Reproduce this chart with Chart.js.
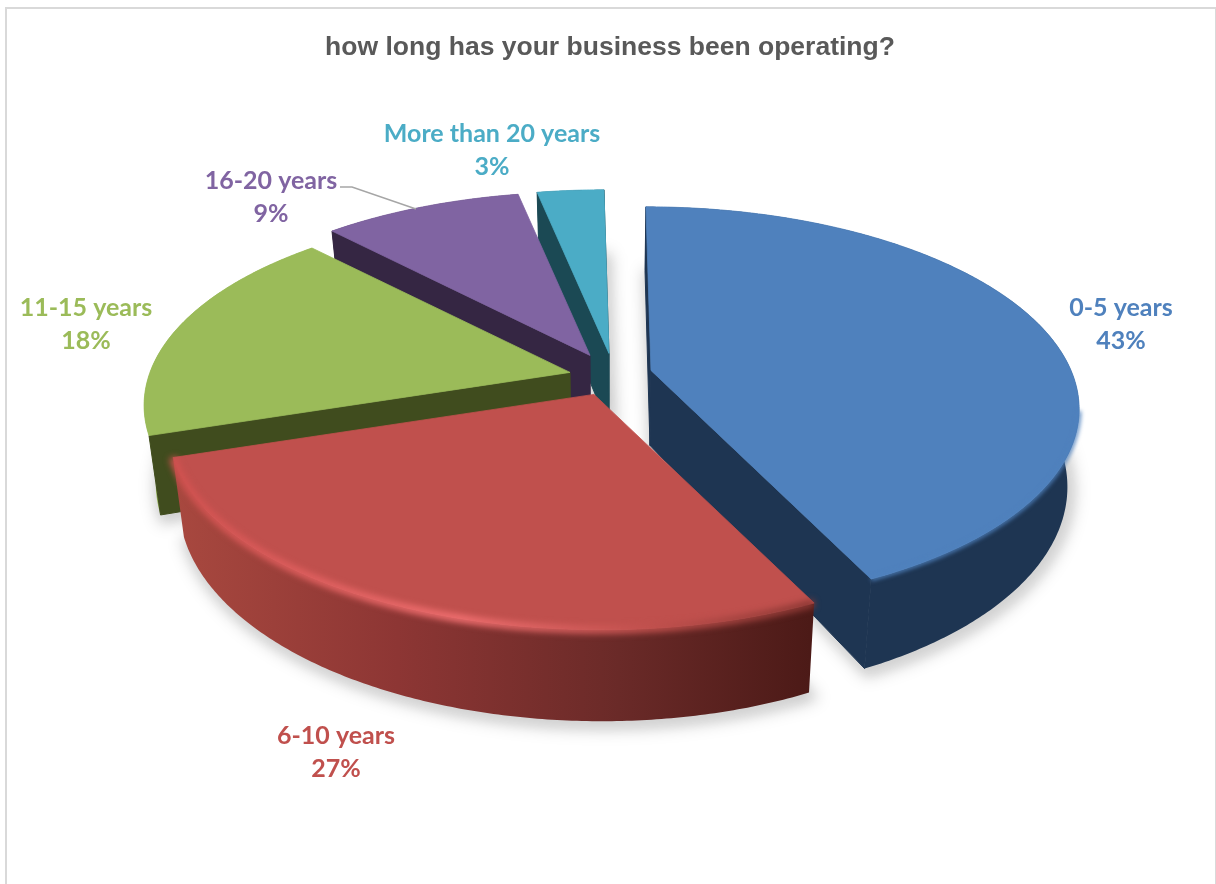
<!DOCTYPE html>
<html>
<head>
<meta charset="utf-8">
<title>how long has your business been operating?</title>
<script src="https://cdn.jsdelivr.net/npm/chart.js@4"></script>
<style>
  html, body { margin: 0; background: #fff; }
  #grafico { position: relative; width: 1216px; height: 884px; overflow: hidden; }
  #moldura { position: absolute; left: 5px; top: 7px; width: 1208px; height: 890px; border: 2px solid #d9d9d9; }
  canvas { position: absolute; left: 0; top: 0; }
</style>
</head>
<body>
<div id="grafico">
  <div id="moldura"></div>
  <canvas id="myChart" width="1216" height="884"></canvas>
</div>
<script>
const titulo = 'how long has your business been operating?';
const categorias = ['0-5 years', '6-10 years', '11-15 years', '16-20 years', 'More than 20 years'];
const valores = [43, 27, 18, 9, 3];

const cores = ['#4f81bd', '#c0504d', '#9bbb59', '#8064a2', '#4bacc6'];
const coresLateral = ['#1e3552', '#7a2f2c', '#404c1e', '#352643', '#1b4954'];

// Deslocamento de cada fatia (pizza explodida), em px a partir do centro
const explosao = [[41, -7], [-16, 17], [-40, -5], [-20, -22], [-1, -24]];
// Fatias de trás são pintadas primeiro
const ordemDesenho = [4, 3, 0, 2, 1];
// Posição do centro dos rótulos (segunda linha fica 32px abaixo)
const posRotulos = [[1121, 307], [336, 735], [86, 307], [271, 180], [492, 133]];

const largura = 420;    // semi-eixo horizontal do disco
const altura = 193;     // semi-eixo vertical do disco
const perspectiva = 0.18;
const inclinacao = 6;   // leve cisalhamento da vista 3D
const espessura = 75;
const convergencia = 0.975;

// Converte ponto do disco (u, v) em tela
function projetar(arc, i, u, v) {
  const f = 1 / (1 - perspectiva * v);
  return {
    x: arc.x + explosao[i][0] + (largura * u + inclinacao * v) * f,
    y: arc.y + explosao[i][1] + altura * v * f,
    v: v
  };
}

function base(arc, p) {
  return {
    x: arc.x + (p.x - arc.x) * convergencia,
    y: p.y + espessura / (1 - perspectiva * p.v)
  };
}

// Pontos da borda externa da fatia, usando os ângulos calculados pelo Chart.js
function bordaFatia(arc, i) {
  const pontos = [];
  const passos = Math.ceil((arc.endAngle - arc.startAngle) / 0.01);
  for (let k = 0; k <= passos; k++) {
    const a = arc.startAngle + (arc.endAngle - arc.startAngle) * k / passos;
    pontos.push(projetar(arc, i, Math.cos(a), Math.sin(a)));
  }
  return pontos;
}

function caminho(ctx, pontos, fechar) {
  ctx.beginPath();
  pontos.forEach((p, k) => k ? ctx.lineTo(p.x, p.y) : ctx.moveTo(p.x, p.y));
  if (fechar) ctx.closePath();
}

function gradienteLateral(ctx, i) {
  if (i === 1) {
    const g = ctx.createLinearGradient(175, 0, 810, 0);
    g.addColorStop(0, '#a8483f');
    g.addColorStop(0.35, '#8d3634');
    g.addColorStop(0.7, '#6a2a28');
    g.addColorStop(1, '#4c1a17');
    return g;
  }
  if (i === 2) return '#93b552';
  return coresLateral[i];
}

function gradienteAresta(ctx, i) {
  if (i === 1) {
    const g = ctx.createLinearGradient(170, 0, 812, 0);
    g.addColorStop(0, '#d0514f');
    g.addColorStop(0.45, '#f06f70');
    g.addColorStop(0.75, '#c0504d');
    g.addColorStop(1, '#8a3733');
    return g;
  }
  return cores[i];
}

function desenharSombras(ctx, meta) {
  ctx.save();
  ctx.filter = 'blur(7px)';
  ctx.strokeStyle = 'rgba(0,0,0,0.13)';
  ctx.fillStyle = 'rgba(0,0,0,0.13)';
  ctx.lineWidth = 14;
  ctx.lineJoin = 'round';
  meta.data.forEach((arc, i) => {
    const apice = projetar(arc, i, 0, 0);
    const contorno = [apice, ...bordaFatia(arc, i)].map(p => {
      const b = base(arc, p);
      return { x: b.x + 3, y: b.y + 4 };
    });
    caminho(ctx, contorno, true);
    ctx.stroke();
    ctx.fill();
  });
  ctx.restore();
}

function desenharFatia(ctx, arc, i) {
  const apice = projetar(arc, i, 0, 0);
  const borda = bordaFatia(arc, i);

  // parede curva
  ctx.fillStyle = gradienteLateral(ctx, i);
  caminho(ctx, [...borda, ...borda.slice().reverse().map(p => base(arc, p))], true);
  ctx.fill();

  // paredes retas: só as que ficam voltadas para quem olha
  ctx.fillStyle = coresLateral[i];
  ctx.strokeStyle = coresLateral[i];
  ctx.lineWidth = 1;
  const visiveis = [];
  if (Math.cos(arc.startAngle) <= 1e-6) visiveis.push(borda[0]);
  if (Math.cos(arc.endAngle) >= -1e-6) visiveis.push(borda[borda.length - 1]);
  visiveis.forEach(p => {
    caminho(ctx, [apice, p, base(arc, p), base(arc, apice)], true);
    ctx.fill();
    ctx.stroke();
  });

  // face de cima
  ctx.fillStyle = cores[i];
  ctx.strokeStyle = cores[i];
  ctx.lineWidth = 0.8;
  caminho(ctx, [apice, ...borda], true);
  ctx.fill();
  ctx.stroke();

  // chanfro suave, só na parte da frente da borda
  const frente = borda.filter(p => p.v > 0.2);
  if (i < 2 && frente.length) {
    ctx.save();
    ctx.filter = i === 1 ? 'blur(3px)' : 'blur(2px)';
    ctx.strokeStyle = gradienteAresta(ctx, i);
    ctx.lineWidth = i === 1 ? 8 : 4;
    caminho(ctx, frente, false);
    ctx.stroke();
    ctx.restore();
  }
}

function desenharRotulos(ctx) {
  ctx.save();
  ctx.textAlign = 'center';
  ctx.textBaseline = 'middle';
  ctx.font = 'bold 25px Lato';
  categorias.forEach((nome, i) => {
    ctx.fillStyle = cores[i];
    ctx.fillText(nome, posRotulos[i][0], posRotulos[i][1] + 1);
    ctx.fillText(valores[i] + '%', posRotulos[i][0], posRotulos[i][1] + 33.5);
  });
  // linha de chamada do rótulo 16-20 years
  ctx.strokeStyle = '#a6a6a6';
  ctx.lineWidth = 1.5;
  ctx.beginPath();
  ctx.moveTo(340, 187);
  ctx.lineTo(352, 187);
  ctx.lineTo(416, 209);
  ctx.stroke();
  ctx.restore();
}

const pizza3d = {
  id: 'pizza3d',
  beforeDatasetsDraw(chart) {
    const ctx = chart.ctx;
    const meta = chart.getDatasetMeta(0);
    desenharSombras(ctx, meta);
    ordemDesenho.forEach(i => desenharFatia(ctx, meta.data[i], i));
    desenharRotulos(ctx);
    return false;
  }
};

const myChart = new Chart(document.getElementById('myChart').getContext('2d'), {
  type: 'pie',
  data: {
    labels: categorias,
    datasets: [{ data: valores, backgroundColor: cores, borderWidth: 0 }]
  },
  options: {
    responsive: false,
    animation: false,
    layout: { padding: { top: 0, bottom: 221, left: 4, right: 0 } },
    plugins: {
      legend: { display: false },
      tooltip: { enabled: false },
      title: {
        display: true,
        text: titulo,
        color: '#595959',
        font: { family: 'Liberation Sans', size: 26.5, weight: 'bold' },
        padding: { top: 32, bottom: 28 }
      }
    }
  },
  plugins: [pizza3d]
});
</script>
</body>
</html>
